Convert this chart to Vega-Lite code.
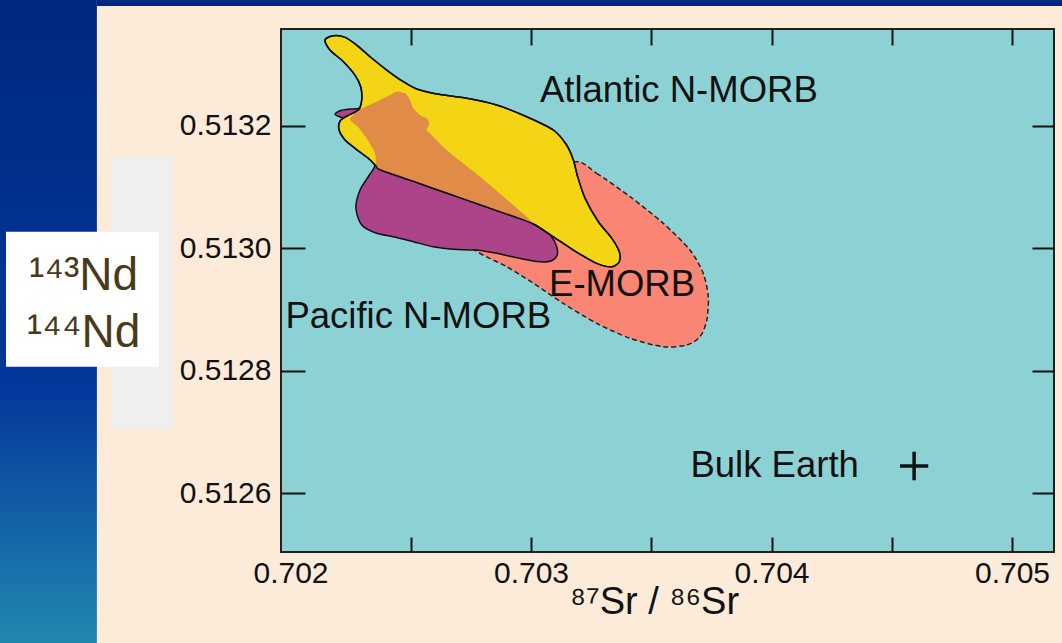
{
  "$schema": "https://vega.github.io/schema/vega-lite/v6.json",
  "width": 773,
  "height": 523,
  "autosize": "none",
  "padding": {"left": 281, "top": 29, "right": 8, "bottom": 91},
  "background": "#fdebd9",
  "config": {
    "view": {"fill": "#8cd2d5", "stroke": "#222222", "strokeWidth": 2},
    "axis": {"labelFont": "Liberation Sans", "titleFont": "Liberation Sans", "domain": false, "grid": false, "tickColor": "#111111", "tickWidth": 2, "labelColor": "#111111", "titleColor": "#111111", "labelFontSize": 30, "titleFontWeight": "normal", "labelFlush": false, "labelOverlap": false}
  },
  "datasets": {
    "regions": [
      {"s": "E-MORB", "i": 1, "x": 0.703183, "y": 0.5131409},
      {"s": "E-MORB", "i": 2, "x": 0.703273, "y": 0.5131220},
      {"s": "E-MORB", "i": 3, "x": 0.703412, "y": 0.5130838},
      {"s": "E-MORB", "i": 4, "x": 0.703550, "y": 0.5130403},
      {"s": "E-MORB", "i": 5, "x": 0.703661, "y": 0.5129967},
      {"s": "E-MORB", "i": 6, "x": 0.703716, "y": 0.5129587},
      {"s": "E-MORB", "i": 7, "x": 0.703737, "y": 0.5129205},
      {"s": "E-MORB", "i": 8, "x": 0.703731, "y": 0.5128824},
      {"s": "E-MORB", "i": 9, "x": 0.703703, "y": 0.5128552},
      {"s": "E-MORB", "i": 10, "x": 0.703647, "y": 0.5128416},
      {"s": "E-MORB", "i": 11, "x": 0.703550, "y": 0.5128389},
      {"s": "E-MORB", "i": 12, "x": 0.703412, "y": 0.5128526},
      {"s": "E-MORB", "i": 13, "x": 0.703273, "y": 0.5128771},
      {"s": "E-MORB", "i": 14, "x": 0.703134, "y": 0.5129097},
      {"s": "E-MORB", "i": 15, "x": 0.703010, "y": 0.5129424},
      {"s": "E-MORB", "i": 16, "x": 0.702899, "y": 0.5129695},
      {"s": "E-MORB", "i": 17, "x": 0.702788, "y": 0.5129913},
      {"s": "E-MORB", "i": 18, "x": 0.702755, "y": 0.5130065},
      {"s": "E-MORB", "i": 19, "x": 0.702788, "y": 0.5130674},
      {"s": "E-MORB", "i": 20, "x": 0.702996, "y": 0.5131110},

      {"s": "Pacific", "i": 1, "x": 0.702185, "y": 0.5132183},
      {"s": "Pacific", "i": 2, "x": 0.702206, "y": 0.5132242},
      {"s": "Pacific", "i": 3, "x": 0.702247, "y": 0.5132269},
      {"s": "Pacific", "i": 4, "x": 0.702289, "y": 0.5132281},
      {"s": "Pacific", "i": 5, "x": 0.702358, "y": 0.5132389},
      {"s": "Pacific", "i": 6, "x": 0.702414, "y": 0.5132498},
      {"s": "Pacific", "i": 7, "x": 0.702442, "y": 0.5132552},
      {"s": "Pacific", "i": 8, "x": 0.702476, "y": 0.5132526},
      {"s": "Pacific", "i": 9, "x": 0.702497, "y": 0.5132416},
      {"s": "Pacific", "i": 10, "x": 0.702511, "y": 0.5132281},
      {"s": "Pacific", "i": 11, "x": 0.702538, "y": 0.5132171},
      {"s": "Pacific", "i": 12, "x": 0.702566, "y": 0.5132118},
      {"s": "Pacific", "i": 13, "x": 0.702577, "y": 0.5132024},
      {"s": "Pacific", "i": 14, "x": 0.702566, "y": 0.5131927},
      {"s": "Pacific", "i": 15, "x": 0.702587, "y": 0.5131845},
      {"s": "Pacific", "i": 16, "x": 0.702649, "y": 0.5131600},
      {"s": "Pacific", "i": 17, "x": 0.702788, "y": 0.5131164},
      {"s": "Pacific", "i": 18, "x": 0.702926, "y": 0.5130702},
      {"s": "Pacific", "i": 19, "x": 0.703010, "y": 0.5130403},
      {"s": "Pacific", "i": 20, "x": 0.703051, "y": 0.5130322},
      {"s": "Pacific", "i": 21, "x": 0.703086, "y": 0.5130184},
      {"s": "Pacific", "i": 22, "x": 0.703107, "y": 0.5130021},
      {"s": "Pacific", "i": 23, "x": 0.703109, "y": 0.5129886},
      {"s": "Pacific", "i": 24, "x": 0.703086, "y": 0.5129793},
      {"s": "Pacific", "i": 25, "x": 0.703037, "y": 0.5129776},
      {"s": "Pacific", "i": 26, "x": 0.702954, "y": 0.5129832},
      {"s": "Pacific", "i": 27, "x": 0.702857, "y": 0.5129913},
      {"s": "Pacific", "i": 28, "x": 0.702774, "y": 0.5129967},
      {"s": "Pacific", "i": 29, "x": 0.702677, "y": 0.5129979},
      {"s": "Pacific", "i": 30, "x": 0.702594, "y": 0.5130021},
      {"s": "Pacific", "i": 31, "x": 0.702511, "y": 0.5130103},
      {"s": "Pacific", "i": 32, "x": 0.702427, "y": 0.5130184},
      {"s": "Pacific", "i": 33, "x": 0.702358, "y": 0.5130240},
      {"s": "Pacific", "i": 34, "x": 0.702296, "y": 0.5130376},
      {"s": "Pacific", "i": 35, "x": 0.702272, "y": 0.5130648},
      {"s": "Pacific", "i": 36, "x": 0.702289, "y": 0.5130947},
      {"s": "Pacific", "i": 37, "x": 0.702328, "y": 0.5131192},
      {"s": "Pacific", "i": 38, "x": 0.702351, "y": 0.5131339},
      {"s": "Pacific", "i": 39, "x": 0.702351, "y": 0.5131551},
      {"s": "Pacific", "i": 40, "x": 0.702318, "y": 0.5131780},
      {"s": "Pacific", "i": 41, "x": 0.702281, "y": 0.5131976},
      {"s": "Pacific", "i": 42, "x": 0.702247, "y": 0.5132098},
      {"s": "Pacific", "i": 43, "x": 0.702206, "y": 0.5132139},

      {"s": "Atlantic", "i": 1, "x": 0.702143, "y": 0.5133396},
      {"s": "Atlantic", "i": 2, "x": 0.702178, "y": 0.5133466},
      {"s": "Atlantic", "i": 3, "x": 0.702227, "y": 0.5133440},
      {"s": "Atlantic", "i": 4, "x": 0.702275, "y": 0.5133314},
      {"s": "Atlantic", "i": 5, "x": 0.702331, "y": 0.5133123},
      {"s": "Atlantic", "i": 6, "x": 0.702400, "y": 0.5132906},
      {"s": "Atlantic", "i": 7, "x": 0.702469, "y": 0.5132715},
      {"s": "Atlantic", "i": 8, "x": 0.702525, "y": 0.5132596},
      {"s": "Atlantic", "i": 9, "x": 0.702608, "y": 0.5132514},
      {"s": "Atlantic", "i": 10, "x": 0.702733, "y": 0.5132444},
      {"s": "Atlantic", "i": 11, "x": 0.702857, "y": 0.5132335},
      {"s": "Atlantic", "i": 12, "x": 0.702982, "y": 0.5132144},
      {"s": "Atlantic", "i": 13, "x": 0.703093, "y": 0.5131927},
      {"s": "Atlantic", "i": 14, "x": 0.703148, "y": 0.5131682},
      {"s": "Atlantic", "i": 15, "x": 0.703176, "y": 0.5131437},
      {"s": "Atlantic", "i": 16, "x": 0.703194, "y": 0.5131164},
      {"s": "Atlantic", "i": 17, "x": 0.703225, "y": 0.5130811},
      {"s": "Atlantic", "i": 18, "x": 0.703280, "y": 0.5130429},
      {"s": "Atlantic", "i": 19, "x": 0.703336, "y": 0.5130158},
      {"s": "Atlantic", "i": 20, "x": 0.703367, "y": 0.5129940},
      {"s": "Atlantic", "i": 21, "x": 0.703367, "y": 0.5129776},
      {"s": "Atlantic", "i": 22, "x": 0.703336, "y": 0.5129695},
      {"s": "Atlantic", "i": 23, "x": 0.703273, "y": 0.5129750},
      {"s": "Atlantic", "i": 24, "x": 0.703176, "y": 0.5129967},
      {"s": "Atlantic", "i": 25, "x": 0.703093, "y": 0.5130184},
      {"s": "Atlantic", "i": 26, "x": 0.703010, "y": 0.5130392},
      {"s": "Atlantic", "i": 27, "x": 0.702926, "y": 0.5130518},
      {"s": "Atlantic", "i": 28, "x": 0.702788, "y": 0.5130707},
      {"s": "Atlantic", "i": 29, "x": 0.702649, "y": 0.5130898},
      {"s": "Atlantic", "i": 30, "x": 0.702511, "y": 0.5131089},
      {"s": "Atlantic", "i": 31, "x": 0.702372, "y": 0.5131278},
      {"s": "Atlantic", "i": 32, "x": 0.702356, "y": 0.5131339},
      {"s": "Atlantic", "i": 33, "x": 0.702322, "y": 0.5131469},
      {"s": "Atlantic", "i": 34, "x": 0.702272, "y": 0.5131616},
      {"s": "Atlantic", "i": 35, "x": 0.702227, "y": 0.5131763},
      {"s": "Atlantic", "i": 36, "x": 0.702202, "y": 0.5131927},
      {"s": "Atlantic", "i": 37, "x": 0.702206, "y": 0.5132073},
      {"s": "Atlantic", "i": 38, "x": 0.702235, "y": 0.5132155},
      {"s": "Atlantic", "i": 39, "x": 0.702282, "y": 0.5132253},
      {"s": "Atlantic", "i": 40, "x": 0.702296, "y": 0.5132416},
      {"s": "Atlantic", "i": 41, "x": 0.702292, "y": 0.5132633},
      {"s": "Atlantic", "i": 42, "x": 0.702268, "y": 0.5132824},
      {"s": "Atlantic", "i": 43, "x": 0.702220, "y": 0.5133042},
      {"s": "Atlantic", "i": 44, "x": 0.702164, "y": 0.5133233},

      {"s": "Overlap", "i": 1, "x": 0.702247, "y": 0.5132098},
      {"s": "Overlap", "i": 2, "x": 0.702264, "y": 0.5132180},
      {"s": "Overlap", "i": 3, "x": 0.702289, "y": 0.5132264},
      {"s": "Overlap", "i": 4, "x": 0.702358, "y": 0.5132389},
      {"s": "Overlap", "i": 5, "x": 0.702414, "y": 0.5132498},
      {"s": "Overlap", "i": 6, "x": 0.702442, "y": 0.5132552},
      {"s": "Overlap", "i": 7, "x": 0.702476, "y": 0.5132526},
      {"s": "Overlap", "i": 8, "x": 0.702497, "y": 0.5132416},
      {"s": "Overlap", "i": 9, "x": 0.702511, "y": 0.5132281},
      {"s": "Overlap", "i": 10, "x": 0.702538, "y": 0.5132171},
      {"s": "Overlap", "i": 11, "x": 0.702566, "y": 0.5132118},
      {"s": "Overlap", "i": 12, "x": 0.702577, "y": 0.5132024},
      {"s": "Overlap", "i": 13, "x": 0.702566, "y": 0.5131927},
      {"s": "Overlap", "i": 14, "x": 0.702587, "y": 0.5131845},
      {"s": "Overlap", "i": 15, "x": 0.702649, "y": 0.5131600},
      {"s": "Overlap", "i": 16, "x": 0.702788, "y": 0.5131164},
      {"s": "Overlap", "i": 17, "x": 0.702926, "y": 0.5130702},
      {"s": "Overlap", "i": 18, "x": 0.703003, "y": 0.5130424},
      {"s": "Overlap", "i": 19, "x": 0.702926, "y": 0.5130518},
      {"s": "Overlap", "i": 20, "x": 0.702788, "y": 0.5130707},
      {"s": "Overlap", "i": 21, "x": 0.702649, "y": 0.5130898},
      {"s": "Overlap", "i": 22, "x": 0.702511, "y": 0.5131089},
      {"s": "Overlap", "i": 23, "x": 0.702372, "y": 0.5131278},
      {"s": "Overlap", "i": 24, "x": 0.702356, "y": 0.5131355},
      {"s": "Overlap", "i": 25, "x": 0.702351, "y": 0.5131551},
      {"s": "Overlap", "i": 26, "x": 0.702318, "y": 0.5131780},
      {"s": "Overlap", "i": 27, "x": 0.702281, "y": 0.5131976}
    ],
    "labels": [
      {"t": "Atlantic N-MORB", "x": 0.703037, "y": 0.5132384},
      {"t": "E-MORB", "x": 0.703075, "y": 0.5129216},
      {"t": "Pacific N-MORB", "x": 0.701979, "y": 0.5128689},
      {"t": "Bulk Earth", "x": 0.703663, "y": 0.5126261}
    ],
    "bulk": [
      {"t": "Bulk Earth", "x": 0.704593, "y": 0.5126441}
    ],
    "decor": [
      {"part": "strip", "x": 0.70075, "x2": 0.701195, "y": 0.51235, "y2": 0.51341},
      {"part": "band", "x": 0.701195, "x2": 0.70525, "y": 0.5133951, "y2": 0.51341},
      {"part": "gray", "x": 0.7012578, "x2": 0.7015114, "y": 0.5127045, "y2": 0.5131486},
      {"part": "white", "x": 0.700817, "x2": 0.7014532, "y": 0.5128062, "y2": 0.5130266}
    ]
  },
  "encoding": {
    "x": {"field": "x", "type": "quantitative", "scale": {"domain": [0.7019605, 0.7051746], "nice": false, "zero": false}, "axis": null},
    "y": {"field": "y", "type": "quantitative", "scale": {"domain": [0.5125037, 0.5133576], "nice": false, "zero": false}, "axis": null}
  },
  "layer": [
    {
      "data": {"name": "decor"},
      "transform": [{"filter": "datum.part == 'strip'"}],
      "mark": {"type": "rect", "fill": {"gradient": "linear", "x1": 0, "y1": 0, "x2": 0, "y2": 1, "stops": [{"offset": 0, "color": "#00287f"}, {"offset": 0.6, "color": "#04379c"}, {"offset": 1, "color": "#2189b0"}]}},
      "encoding": {"x2": {"field": "x2"}, "y2": {"field": "y2"}}
    },
    {
      "data": {"name": "decor"},
      "transform": [{"filter": "datum.part == 'band'"}],
      "mark": {"type": "rect", "fill": "#00287f"},
      "encoding": {"x2": {"field": "x2"}, "y2": {"field": "y2"}}
    },
    {
      "data": {"name": "decor"},
      "transform": [{"filter": "datum.part == 'gray'"}],
      "mark": {"type": "rect", "fill": "#efefef"},
      "encoding": {"x2": {"field": "x2"}, "y2": {"field": "y2"}}
    },
    {
      "data": {"name": "decor"},
      "transform": [{"filter": "datum.part == 'white'"}],
      "mark": {"type": "rect", "fill": "#ffffff"},
      "encoding": {"x2": {"field": "x2"}, "y2": {"field": "y2"}}
    },
    {
      "data": {"name": "regions"},
      "transform": [{"filter": "datum.s == 'E-MORB'"}],
      "mark": {"type": "line", "interpolate": "cardinal-closed", "tension": 0.2, "fill": "#f98574", "stroke": "#222222", "strokeWidth": 1.5, "strokeDash": [5, 3]},
      "encoding": {
        "order": {"field": "i", "type": "quantitative"},
        "x": {"field": "x", "type": "quantitative", "scale": {"domain": [0.7019605, 0.7051746], "nice": false, "zero": false},
          "axis": {"orient": "bottom", "values": [0.702, 0.7025, 0.703, 0.7035, 0.704, 0.7045, 0.705],
            "labelExpr": "abs(round(datum.value*1000) - datum.value*1000) < 0.01 ? format(datum.value, '.3f') : ''",
            "tickSize": -15, "labelPadding": 21,
            "tickOpacity": {"condition": {"test": "datum.value < 0.7022", "value": 0}, "value": 1},
            "title": "⁸⁷Sr / ⁸⁶Sr", "titleFontSize": 38, "titleX": 373, "titleY": 61, "titleBaseline": "alphabetic", "titleAlign": "center", "zindex": 1}},
        "y": {"field": "y", "type": "quantitative", "scale": {"domain": [0.5125037, 0.5133576], "nice": false, "zero": false},
          "axis": {"orient": "left", "values": [0.5126, 0.5128, 0.513, 0.5132], "format": ".4f",
            "tickSize": -24, "labelPadding": 34,
            "title": ["¹⁴³Nd", "¹⁴⁴Nd"], "titleAngle": 0, "titleX": -198, "titleY": 260, "titleAlign": "center", "titleBaseline": "alphabetic",
            "titleFontSize": 46, "titleLineHeight": 57, "titleColor": "#4a3a1a", "zindex": 1}}
      }
    },
    {
      "data": {"name": "regions"},
      "transform": [{"filter": "datum.s == 'Pacific'"}],
      "mark": {"type": "line", "interpolate": "cardinal-closed", "tension": 0.2, "fill": "#ad4489", "stroke": "#111111", "strokeWidth": 1.5},
      "encoding": {"order": {"field": "i", "type": "quantitative"}}
    },
    {
      "data": {"name": "regions"},
      "transform": [{"filter": "datum.s == 'Atlantic'"}],
      "mark": {"type": "line", "interpolate": "cardinal-closed", "tension": 0.2, "fill": "#f3d516", "stroke": "#111111", "strokeWidth": 1.5},
      "encoding": {"order": {"field": "i", "type": "quantitative"}}
    },
    {
      "data": {"name": "regions"},
      "transform": [{"filter": "datum.s == 'Overlap'"}],
      "mark": {"type": "line", "interpolate": "cardinal-closed", "tension": 0.2, "fill": "#e08b47", "strokeOpacity": 0},
      "encoding": {"order": {"field": "i", "type": "quantitative"}}
    },
    {
      "data": {"name": "regions"},
      "transform": [{"filter": "datum.s == 'Atlantic'"}],
      "mark": {"type": "line", "interpolate": "cardinal-closed", "tension": 0.2, "stroke": "#111111", "strokeWidth": 1.5},
      "encoding": {"order": {"field": "i", "type": "quantitative"}}
    },
    {
      "data": {"name": "bulk"},
      "mark": {"type": "point", "shape": "M-1,0L1,0M0,-1L0,1", "size": 800, "filled": false, "stroke": "#111111", "strokeWidth": 3.5, "opacity": 1}
    },
    {
      "data": {"name": "labels"},
      "mark": {"type": "text", "font": "Liberation Sans", "fontSize": 36.5, "align": "left", "baseline": "alphabetic", "color": "#111111"},
      "encoding": {
        "text": {"field": "t"},
        "x": {"field": "x", "type": "quantitative", "scale": {"domain": [0.7019605, 0.7051746], "nice": false, "zero": false},
          "axis": {"orient": "top", "values": [0.7025, 0.703, 0.7035, 0.704, 0.7045, 0.705], "labels": false, "tickSize": -16, "title": null, "zindex": 1}},
        "y": {"field": "y", "type": "quantitative", "scale": {"domain": [0.5125037, 0.5133576], "nice": false, "zero": false},
          "axis": {"orient": "right", "values": [0.5126, 0.5128, 0.513, 0.5132], "labels": false, "tickSize": -22, "title": null, "zindex": 1}}
      }
    }
  ],
  "resolve": {"axis": {"x": "independent", "y": "independent"}}
}
